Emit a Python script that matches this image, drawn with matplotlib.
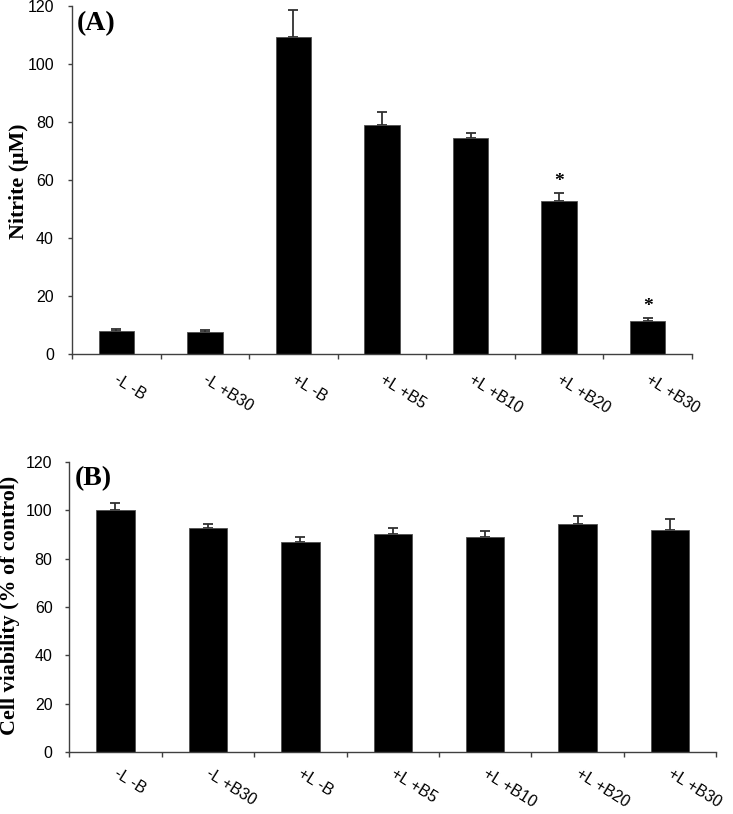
import matplotlib
matplotlib.use("Agg")
import matplotlib.pyplot as plt
import numpy as np

# ---- data ----
categories = ["-L -B", "-L +B30", "+L -B", "+L +B5", "+L +B10", "+L +B20", "+L +B30"]

nitrite_mean = [7.9, 7.6, 109.2, 79.1, 74.6, 52.9, 11.3]
nitrite_err = [0.7, 0.7, 9.3, 4.5, 1.6, 2.7, 1.1]
nitrite_sig = ["", "", "", "", "", "*", "*"]

viability_mean = [100.1, 92.5, 86.8, 90.3, 89.1, 94.5, 92.0]
viability_err = [2.8, 1.7, 2.2, 2.4, 2.5, 3.1, 4.3]

yticks = [0, 20, 40, 60, 80, 100, 120]

SANS = "Liberation Sans"
SERIF = "Liberation Serif"
AXC = "#404040"

fig = plt.figure(figsize=(7.33, 8.14), dpi=100)
axA = fig.add_axes([0.0982, 0.5651, 0.8458, 0.4275])
axB = fig.add_axes([0.0945, 0.0762, 0.8827, 0.3563])


def draw(ax, means, errs, width, ypad, panel, lab_dy):
    x = np.arange(len(categories))
    ax.errorbar(x, means, yerr=[np.zeros(len(errs)), errs], fmt="none",
                ecolor="#303030", elinewidth=1.3, capsize=3.9, capthick=1.3,
                zorder=1)
    ax.bar(x, means, width=width, color="black", edgecolor="#505050",
           linewidth=0.6, zorder=2)
    ax.set_xlim(-0.5, len(categories) - 0.5)
    ax.set_ylim(0, 120)
    ax.set_yticks(yticks)
    ax.set_yticklabels([str(t) for t in yticks], family=SANS, fontsize=11.5)
    ax.set_xticks(np.arange(len(categories) + 1) - 0.5)
    ax.set_xticklabels([])
    for s in ["top", "right"]:
        ax.spines[s].set_visible(False)
    for s in ["left", "bottom"]:
        ax.spines[s].set_color(AXC)
        ax.spines[s].set_linewidth(1.0)
    ax.tick_params(axis="y", direction="out", length=3, width=1, color=AXC,
                   pad=ypad)
    ax.tick_params(axis="x", direction="out", length=3.8, width=1, color=AXC)
    for i, lab in enumerate(categories):
        ax.annotate(lab, xy=(i, 0), xycoords=("data", "axes fraction"),
                    xytext=(2.5, lab_dy), textcoords="offset points",
                    rotation=-32, rotation_mode="anchor", ha="left", va="top",
                    family=SANS, fontsize=11.5)
    ax.text(0.008, 0.985, panel, transform=ax.transAxes, ha="left", va="top",
            family=SERIF, fontweight="bold", fontsize=20)


draw(axA, nitrite_mean, nitrite_err, 0.40, 10.0, "(A)", -13)
draw(axB, viability_mean, viability_err, 0.415, 9.0, "(B)", -10)

for i, s in enumerate(nitrite_sig):
    if s:
        axA.text(i, nitrite_mean[i] + nitrite_err[i] + 2.5, s, ha="center",
                 va="baseline", family=SERIF, fontweight="bold", fontsize=14)

fig.text(0.0266, 0.7776, "Nitrite (\u03bcM)", rotation=90, ha="center",
         va="center", family=SERIF, fontweight="bold", fontsize=15.8)
fig.text(0.013, 0.2568, "Cell viability (% of control)", rotation=90,
         ha="center", va="center", family=SERIF, fontweight="bold",
         fontsize=15.8)

fig.savefig("out.png", dpi=100)
